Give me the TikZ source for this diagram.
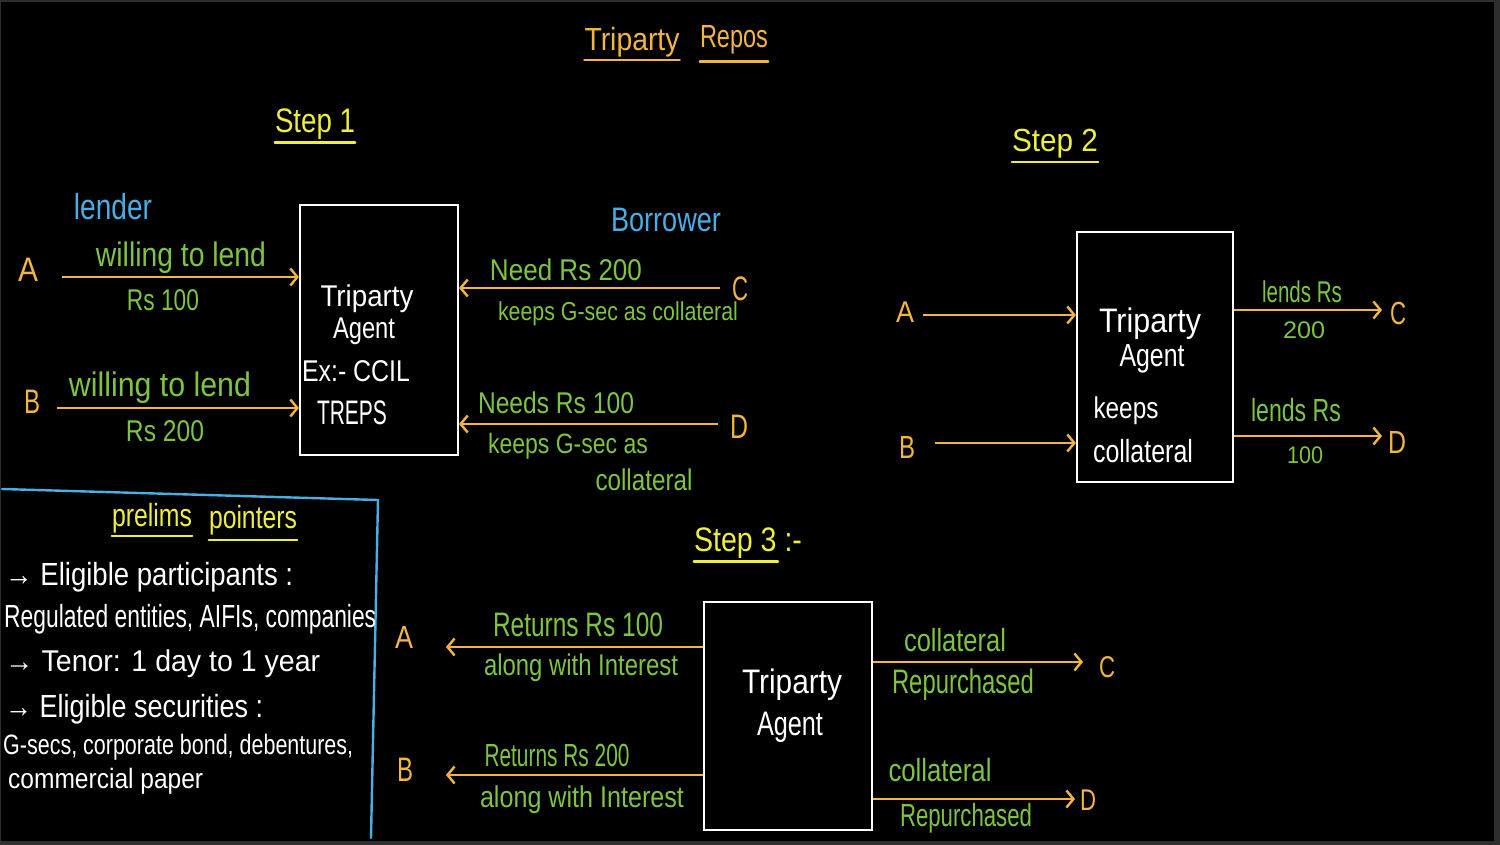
\documentclass[tikz,border=0pt]{standalone}
\usepackage{fontspec}
\setmainfont{Liberation Sans}
\usetikzlibrary{arrows.meta}
\definecolor{frm}{HTML}{2E2E2E}
\definecolor{org}{HTML}{F2B640}
\definecolor{ylw}{HTML}{F0EE3C}
\definecolor{grn}{HTML}{7EC443}
\definecolor{blu}{HTML}{4AAEE6}
\newcommand{\hw}[3]{\resizebox{#1pt}{\height}{\fontsize{#2}{#2}\selectfont #3}}
\tikzset{
  lbl/.style={text=grn, inner sep=0pt},
  wtxt/.style={text=white, inner sep=0pt},
  ytxt/.style={text=ylw, inner sep=0pt},
  otxt/.style={text=org, inner sep=0pt},
  btxt/.style={text=blu, inner sep=0pt},
  letter/.style={text=org, inner sep=0pt},
  arr/.style={draw=org, line width=2.4pt, -{Straight Barb[length=7pt,width=17pt]}},
  boxst/.style={draw=white, line width=2.2pt, rectangle, inner sep=0pt},
  yline/.style={draw=ylw, line width=2.4pt, line cap=round},
  oline/.style={draw=org, line width=2.4pt, line cap=round},
  bline/.style={draw=blu, line width=2.4pt, line cap=round},
}
\begin{document}
\begin{tikzpicture}[x=1pt,y=-1pt]
\fill[frm] (0,0) rectangle (1500,845);
\fill[black] (1,2) rectangle (1494,841);
\useasboundingbox (0,0) rectangle (1500,845);

% Title
\node[otxt] (t1) at (632,42) {\hw{95}{32}{Triparty}};
\node[otxt] (t2) at (734,40) {\hw{68}{32}{Repos}};
\draw[oline] ([yshift=-10pt]t1.base west) -- ([yshift=-10pt]t1.base east);
\draw[oline] ([yshift=-14pt]t2.base west) -- ([yshift=-14pt]t2.base east);

% Step headings
\node[ytxt] (s1) at (315,124) {\hw{80}{34}{Step 1}};
\draw[yline] ([yshift=-10pt]s1.base west) -- ([yshift=-10pt]s1.base east);
\node[ytxt] (s2) at (1055,144) {\hw{86}{32}{Step 2}};
\draw[yline] ([yshift=-10pt]s2.base west) -- ([yshift=-10pt]s2.base east);
\node[ytxt] (s3) at (748,543) {\hw{108}{34}{Step 3 :-}};
\draw[yline] ([yshift=-10pt]s3.base west) -- ([yshift=-10pt]s3.base west -| 778,0);

% ---------- Step 1 ----------
\node[btxt] (lender) at (113,207) {\hw{78}{36}{lender}};
\node[btxt] (borrower) at (666,220) {\hw{110}{34}{Borrower}};
\node[boxst, minimum width=158pt, minimum height=250pt] (box1) at (379,330) {};
\node[wtxt] (b1a) at (367,299) {\hw{93}{30}{Triparty}};
\node[wtxt] (b1b) at (364,331) {\hw{62}{30}{Agent}};
\node[wtxt] (b1c) at (356,371) {\hw{108}{30}{Ex:- CCIL}};
\node[wtxt] (b1d) at (352,413) {\hw{70}{34}{TREPS}};

\node[letter] (a1) at (28,270) {\hw{20}{34}{A}};
\node[letter] (bb1) at (32,402) {\hw{16}{34}{B}};
\node[letter] (c1) at (740,289) {\hw{16}{34}{C}};
\node[letter] (d1) at (739,427) {\hw{18}{34}{D}};
\coordinate (a1s) at (62,277);
\coordinate (b1s) at (57,408);
\coordinate (c1s) at (720,288);
\coordinate (d1s) at (718,424);
\draw[arr] (a1s) -- (box1.west |- a1s);
\draw[arr] (b1s) -- (box1.west |- b1s);
\draw[arr] (c1s) -- (box1.east |- c1s);
\draw[arr] (d1s) -- (box1.east |- d1s);
\node[lbl] (l1) at (181,258) {\hw{170}{34}{willing to lend}};
\node[lbl] (l2) at (163,300) {\hw{72}{30}{Rs 100}};
\node[lbl] (l3) at (160,388) {\hw{182}{34}{willing to lend}};
\node[lbl] (l4) at (165,431) {\hw{78}{30}{Rs 200}};
\node[lbl] (l5) at (566,270) {\hw{152}{30}{Need Rs 200}};
\node[lbl] (l6) at (618,314) {\hw{240}{26}{keeps G-sec as collateral}};
\node[lbl] (l7) at (556,403) {\hw{156}{30}{Needs Rs 100}};
\node[lbl] (l8) at (568,446) {\hw{160}{28}{keeps G-sec as}};
\node[lbl] (l9) at (644,480) {\hw{97}{30}{collateral}};

% ---------- Step 2 ----------
\node[boxst, minimum width=156pt, minimum height=250pt] (box2) at (1155,357) {};
\node[wtxt] (b2a) at (1150,324) {\hw{102}{34}{Triparty}};
\node[wtxt] (b2b) at (1152,359) {\hw{65}{32}{Agent}};
\node[wtxt] (b2c) at (1126,411) {\hw{65}{30}{keeps}};
\node[wtxt] (b2d) at (1143,451) {\hw{100}{32}{collateral}};
\node[letter] (a2) at (905,312) {\hw{18}{30}{A}};
\node[letter] (bb2) at (907,447) {\hw{16}{32}{B}};
\node[letter] (c2) at (1398,313) {\hw{16}{32}{C}};
\node[letter] (d2) at (1397,442) {\hw{18}{32}{D}};
\coordinate (a2s) at (923,315);
\coordinate (b2s) at (935,443);
\coordinate (c2e) at (1382,310);
\coordinate (d2e) at (1382,436);
\draw[arr] (a2s) -- (box2.west |- a2s);
\draw[arr] (b2s) -- (box2.west |- b2s);
\draw[arr] (box2.east |- c2e) -- (c2e);
\draw[arr] (box2.east |- d2e) -- (d2e);
\node[lbl] (m1) at (1302,292) {\hw{80}{30}{lends Rs}};
\node[lbl] (m2) at (1304,330) {\hw{42}{24}{200}};
\node[lbl] (m3) at (1296,410) {\hw{90}{32}{lends Rs}};
\node[lbl] (m4) at (1305,455) {\hw{36}{24}{100}};

% ---------- Step 3 ----------
\node[boxst, minimum width=168pt, minimum height=228pt] (box3) at (788,716) {};
\node[wtxt] (b3a) at (792,685) {\hw{100}{34}{Triparty}};
\node[wtxt] (b3b) at (790,727) {\hw{66}{34}{Agent}};
\node[letter] (a3) at (404,637) {\hw{18}{32}{A}};
\node[letter] (bb3) at (405,770) {\hw{16}{34}{B}};
\node[letter] (c3) at (1107,667) {\hw{16}{30}{C}};
\node[letter] (d3) at (1088,800) {\hw{16}{30}{D}};
\coordinate (a3e) at (446,647);
\coordinate (b3e) at (446,775);
\coordinate (c3e) at (1083,662);
\coordinate (d3e) at (1075,799);
\draw[arr] (box3.west |- a3e) -- (a3e);
\draw[arr] (box3.west |- b3e) -- (b3e);
\draw[arr] (box3.east |- c3e) -- (c3e);
\draw[arr] (box3.east |- d3e) -- (d3e);
\node[lbl] (n1) at (578,625) {\hw{170}{34}{Returns Rs 100}};
\node[lbl] (n2) at (581,668) {\hw{194}{30}{along with Interest}};
\node[lbl] (n3) at (557,755) {\hw{145}{32}{Returns Rs 200}};
\node[lbl] (n4) at (582,800) {\hw{204}{30}{along with Interest}};
\node[lbl] (n5) at (955,640) {\hw{102}{32}{collateral}};
\node[lbl] (n6) at (963,685) {\hw{142}{34}{Repurchased}};
\node[lbl] (n7) at (940,770) {\hw{103}{32}{collateral}};
\node[lbl] (n8) at (966,818) {\hw{132}{32}{Repurchased}};

% ---------- Prelims pointers ----------
\coordinate (pb1) at (2,489);
\coordinate (pb2) at (378,500);
\coordinate (pb3) at (371,838);
\draw[bline] (pb1) -- (pb2) -- (pb3);
\node[ytxt] (pp1) at (152,518) {\hw{80}{32}{prelims}};
\node[ytxt] (pp2) at (253,520) {\hw{88}{32}{pointers}};
\draw[yline] ([yshift=-10pt]pp1.base west) -- ([yshift=-10pt]pp1.base east);
\draw[yline] ([yshift=-12pt]pp2.base west) -- ([yshift=-12pt]pp2.base east);
\node[wtxt, anchor=west] (p1) at (5,577) {\hw{288}{32}{→ Eligible participants :}};
\node[wtxt, anchor=west] (p2) at (4,619) {\hw{372}{32}{Regulated entities, AIFIs, companies}};
\node[wtxt, anchor=west] (p3) at (5,664) {\hw{315}{30}{→ Tenor: 1 day to 1 year}};
\node[wtxt, anchor=west] (p4) at (5,709) {\hw{258}{32}{→ Eligible securities :}};
\node[wtxt, anchor=west] (p5) at (3,747) {\hw{350}{28}{G-secs, corporate bond, debentures,}};
\node[wtxt, anchor=west] (p6) at (8,781) {\hw{195}{28}{commercial paper}};
\end{tikzpicture}
\end{document}
